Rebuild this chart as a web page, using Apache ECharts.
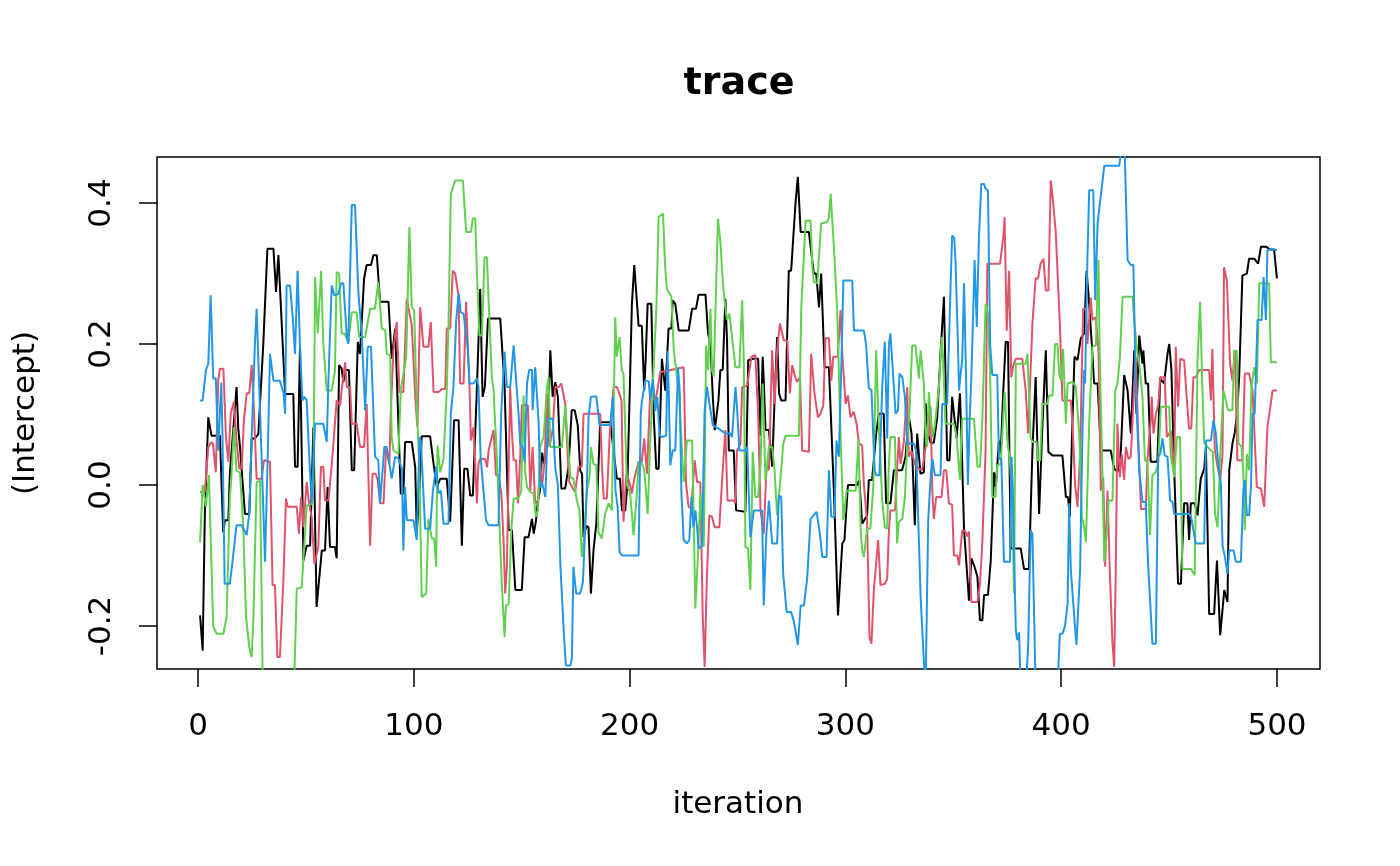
<!DOCTYPE html>
<html>
<head>
<meta charset="utf-8">
<script src="https://cdn.jsdelivr.net/npm/echarts@6/dist/echarts.min.js"></script>
<style>html,body{margin:0;padding:0;background:#fff;}#c{width:1400px;height:866px;}</style>
</head>
<body>
<div id="c"></div>
<script>
const chainColors = ['#000000', '#DF536B', '#61D04F', '#2297E6'];
const xTickValues = [0, 100, 200, 300, 400, 500];
const yTickValues = [-0.2, 0.0, 0.2, 0.4];

const chain1 = [[1,-0.185],[2.2,-0.235],[3.2,-0.043],[4,-0.043],[4.8,0.096],[6.3,0.07],[10.2,0.07],[11.7,-0.067],[12.5,-0.05],[14.1,-0.05],[14.8,0.016],[15.6,0.016],[17.9,0.139],[18.7,0.08],[19.5,0.054],[20.3,0.054],[21.8,-0.041],[23.8,-0.041],[24.9,0.066],[26.4,0.066],[28,0.072],[28.8,0.072],[30.3,0.2],[32.2,0.335],[35,0.335],[36.2,0.274],[37.3,0.326],[38,0.326],[40.4,0.129],[44.2,0.129],[45,0.026],[46.2,0.026],[47.3,0.196],[48.9,-0.107],[50.4,-0.086],[52,-0.086],[53.5,0.082],[55,-0.173],[57.4,-0.093],[58.9,-0.093],[60.1,-0.003],[61.2,-0.088],[63.5,-0.088],[64.3,-0.104],[65.4,0.17],[66.6,0.165],[67.4,0.146],[68.2,0.163],[70,0.163],[71.3,0.021],[72.4,0.021],[74.1,0.203],[75.1,0.186],[77,0.293],[78.2,0.312],[80.2,0.312],[81.3,0.326],[82.9,0.326],[84.4,0.26],[88.3,0.26],[89.8,0.179],[91.4,0.222],[94,-0.012],[95.2,-0.012],[96,0.061],[99.1,0.061],[100.7,0.025],[101.4,-0.067],[102.7,-0.008],[103.7,0.069],[107.6,0.069],[109.2,0.03],[110.7,-0.003],[112.3,0.009],[115.3,0.009],[116.9,-0.052],[118.7,0.092],[120.8,0.092],[122.3,-0.086],[123.4,0.023],[124.9,0.023],[126.2,-0.015],[127.4,-0.015],[129.3,0.139],[130.8,0.278],[131.9,0.125],[133,0.14],[134.4,0.236],[140.1,0.236],[142.1,0.14],[144,-0.064],[145.5,-0.064],[147.1,-0.149],[150.1,-0.149],[151.4,-0.074],[153.2,-0.074],[154.8,-0.048],[155.6,-0.069],[156.6,-0.052],[157.6,-0.022],[158.5,-0.008],[159.5,0.046],[160.5,0.03],[162,0.06],[163.3,0.191],[164.4,0.125],[165.6,0.146],[166.8,0.125],[168.4,-0.005],[170.2,-0.005],[171.8,0.028],[173.2,0.106],[174.6,0.106],[176,0.085],[177.2,0.02],[178,0.016],[178.7,-0.074],[180,-0.058],[181,-0.06],[182.1,-0.154],[183.3,-0.093],[184.6,-0.055],[185.2,-0.055],[186.4,0.089],[191.1,0.089],[194.1,0.009],[195.6,0.009],[196.5,-0.036],[198,-0.036],[199,0.0],[200,0.12],[201.1,0.257],[202.2,0.312],[203.1,0.312],[204.2,0.226],[205.7,0.226],[206.8,0.134],[207.5,0.18],[208.4,0.257],[210.1,0.257],[211.2,0.1],[212.4,0.023],[213.5,0.023],[215,0.179],[216.6,0.134],[218.1,0.222],[219.4,0.222],[220,0.262],[221.2,0.257],[222.8,0.219],[227.4,0.219],[229,0.25],[230.8,0.25],[232,0.27],[235.2,0.27],[236.4,0.215],[237.5,0.2],[238.6,0.125],[239.5,0.078],[240.1,0.078],[241.2,0.12],[242.1,0.163],[243.2,0.163],[244.4,0.264],[245.2,0.205],[246,0.049],[248.3,0.049],[249.4,-0.036],[253.7,-0.038],[255,0.177],[257.1,0.179],[259.6,0.179],[260.7,0.07],[261.7,0.182],[262.2,0.15],[263,0.078],[264.6,0.078],[266.1,0.026],[267.2,0.12],[268.4,0.21],[269.3,0.13],[270.3,0.12],[272.3,0.12],[273.8,0.304],[274.9,0.304],[276.9,0.399],[278,0.437],[279.3,0.359],[283.1,0.359],[285.4,0.3],[286.5,0.3],[287.8,0.252],[288.8,0.3],[290.4,0.167],[292.4,0.167],[294.7,-0.008],[296.6,-0.185],[297.3,-0.185],[298.6,-0.083],[299.6,-0.078],[301.2,0],[305.5,0],[306.5,0.007],[307.8,-0.055],[308.6,-0.055],[310.1,-0.043],[310.9,0.007],[312.4,0.007],[314.3,0.073],[315.5,0.101],[317.8,0.101],[318.9,-0.026],[320.9,-0.026],[322.5,0.021],[326.3,0.021],[327.9,0.04],[329.4,0.098],[330.7,0.073],[332.2,-0.057],[333.3,0.073],[334.8,0.016],[336.4,0.018],[337.2,0.116],[338.3,0.073],[339.5,0.06],[341,0.06],[342.6,0.096],[344.1,0.186],[345.7,0.267],[347.2,0.035],[348.3,0.035],[349.5,0.125],[350.3,0.125],[351.6,0.066],[353.1,0.13],[353.9,0.06],[355,-0.062],[357.3,-0.164],[358.4,-0.104],[359.9,-0.116],[361.2,-0.13],[362.4,-0.192],[363.5,-0.192],[364.3,-0.156],[366.1,-0.156],[367.4,-0.107],[368.9,0.018],[369.7,-0.003],[371.2,0.063],[372,0.044],[373.2,0.134],[374.3,0.203],[375.4,0.203],[376.6,-0.09],[381.3,-0.09],[382.8,-0.119],[385.1,-0.119],[386.7,0.049],[388.2,0.153],[389.8,-0.041],[391.3,0.082],[392.9,0.191],[394.1,0.047],[396,0.042],[400.6,0.042],[402.2,-0.017],[403.2,-0.017],[404,-0.045],[405.3,0.096],[406.2,0.182],[407.6,0.177],[409.1,0.208],[410.7,0.215],[411.8,0.304],[413,0.257],[414.2,0.2],[415.3,0.144],[416.9,0.144],[418.4,0.049],[423,0.049],[424.6,0.023],[426.2,0.019],[427.7,0.049],[429.2,0.156],[430.8,0.134],[432.3,0.073],[433.9,0.191],[434.9,0.101],[436.2,0.212],[437.7,0.172],[438.1,0.191],[439.2,0.144],[440.3,0.144],[441.5,0.033],[444.6,0.033],[445.9,0.151],[447.7,0.144],[449.3,0.186],[450.1,0.2],[451.1,0.163],[452.4,0.021],[454.2,-0.14],[455.5,-0.14],[457,-0.026],[458.5,-0.026],[459.3,-0.078],[460.1,-0.026],[461.9,-0.026],[463.2,-0.043],[464.7,0.009],[466.3,0.023],[467.1,0.054],[468.6,-0.183],[470.9,-0.183],[472.2,-0.107],[473.7,-0.213],[475.6,-0.149],[477.1,-0.166],[477.9,0.021],[479.4,0.059],[480.5,0.075],[481.5,0.1],[482.5,0.153],[484,0.297],[486.1,0.3],[487.1,0.321],[489.5,0.321],[491.3,0.314],[492.6,0.338],[494.9,0.338],[496.9,0.334],[498.7,0.334],[500,0.293]];

const chain2 = [[1,-0.01],[3.2,-0.01],[4.8,0.054],[6.3,0.061],[7,0.058],[8.3,0.018],[9.4,0.148],[10.2,0.165],[11.8,0.165],[13,0.068],[14.1,0.033],[15.2,0.101],[16,0.103],[16.7,0.118],[17.9,0.063],[19.2,0.023],[20.3,0.023],[21.3,0.092],[22.6,0.13],[23.8,0.13],[24.9,0.17],[25.7,0.125],[27.2,0.009],[29.5,0.009],[30.6,0.035],[33.4,0.033],[34.6,-0.142],[35.7,-0.142],[36.8,-0.244],[38,-0.244],[39.6,-0.135],[40.8,-0.019],[41.6,-0.031],[45.8,-0.031],[46.8,-0.069],[47.8,-0.017],[48.9,-0.06],[50.4,0.004],[51.5,-0.026],[52.7,-0.045],[54,-0.112],[54.9,-0.11],[55.8,-0.088],[57,0.026],[58.1,0.026],[58.9,-0.022],[60.5,-0.022],[62,0.028],[62.8,0.028],[64.3,0.12],[65.9,0.113],[66.6,0.134],[68.2,0.174],[69,0.139],[70.5,0.139],[71.3,0.087],[73.6,0.087],[75.1,0.054],[77,0.054],[78.2,0.115],[79.8,-0.086],[80.9,0.016],[82.4,0.016],[83.3,0.007],[84.4,-0.026],[86,-0.026],[87.2,0.052],[88.7,0.03],[89.4,0.106],[90.6,0.191],[92.1,0.231],[93.4,0.132],[95.2,0.132],[96.8,0.264],[97.6,0.264],[99.1,0.226],[100.7,0.125],[101.7,0.082],[103,0.252],[104.5,0.196],[106.8,0.196],[107.9,0.231],[109.2,0.132],[111.5,0.132],[113,0.136],[114.6,0.136],[115.3,0.222],[116.9,0.222],[118.1,0.304],[119.2,0.3],[120.8,0.267],[121.5,0.144],[123.1,0.144],[124.3,0.26],[125.9,0.134],[126.5,0.063],[127.7,0.082],[129.3,-0.026],[130,0.03],[130.8,0.037],[133.1,0.037],[134,0.025],[134.7,0.049],[137,0.078],[138.1,0.014],[139.3,0.014],[140.6,-0.012],[141.6,-0.078],[142.4,-0.154],[143.2,-0.114],[144.7,0.139],[145.5,0.075],[146.3,0.035],[147.4,0.035],[148.3,-0.026],[149.4,0.044],[150.1,0.113],[152.9,0.113],[154,-0.008],[155.1,0.054],[156.3,-0.026],[157.6,-0.022],[158.6,0.035],[159.4,-0.003],[160.7,0.035],[161.7,0.13],[162.8,0.054],[164.4,0.078],[165.6,0.139],[167.2,0.139],[168.4,0.144],[170.2,0.115],[171.2,0.05],[172.1,0.004],[174.8,-0.01],[176.4,0.026],[177.9,0.026],[178.7,0.101],[186.4,0.101],[187.2,0.03],[188,-0.019],[189.5,-0.019],[190.8,0.07],[192.6,0.139],[194.1,0.139],[195.3,0.13],[196.3,0.12],[197.2,-0.052],[198.5,0.016],[200,0.004],[201.1,-0.012],[202.2,0.009],[204.2,0.033],[205.7,0.033],[206.8,0.066],[208.1,0.016],[209.6,0.134],[210.7,0.125],[211.9,0.12],[212.9,0.134],[214.2,0.16],[225.1,0.167],[226.2,0.002],[227.4,-0.031],[228.6,-0.033],[230.2,0.035],[231.3,0.004],[232.8,0.004],[233.9,-0.183],[234.8,-0.258],[235.9,-0.126],[237,-0.043],[238.2,-0.045],[239.5,-0.06],[241.6,-0.06],[242.9,0.007],[244.4,0.078],[245.4,-0.022],[248.3,-0.022],[249,-0.026],[249.8,0.049],[251.4,0.058],[252.2,0.139],[254.5,0.141],[256.5,0.182],[258.3,0.184],[259.6,0.101],[260.7,-0.036],[262.2,-0.069],[263.5,0.028],[264.6,0.021],[266.1,0.191],[267.2,0.115],[268.4,0.191],[269.7,0.229],[271.5,0.205],[273.1,0.205],[274.3,0.13],[275.4,0.17],[276.5,0.156],[277.7,0.146],[279,0.154],[280,0.049],[283.1,0.047],[284.2,0.186],[285.7,0.13],[287.3,0.096],[288.5,0.101],[289.8,0.113],[290.8,0.208],[292.4,0.208],[293.5,0.148],[294.4,0.182],[296.5,0.182],[297.8,0.248],[298.6,0.186],[300.1,0.115],[301.2,0.127],[302.4,0.096],[303.9,0.104],[305.2,0.087],[306.3,0.059],[307.8,0.056],[308.6,0.0],[310.1,-0.052],[311.2,-0.216],[312.1,-0.225],[313.2,-0.15],[315.2,-0.078],[316.3,-0.142],[318.3,-0.14],[319.4,-0.133],[320.2,-0.064],[320.9,-0.036],[323,-0.036],[324.8,0.068],[325.6,0.03],[327.1,0.061],[328.7,0.139],[329.4,0.04],[330.7,0.048],[332.2,0.03],[334.1,0.023],[335.6,0.021],[337.2,0.054],[338.7,0.073],[339.5,0.111],[340.3,-0.008],[341,-0.048],[342.1,-0.017],[344.6,-0.017],[345.7,0.021],[346.8,0.021],[348,-0.026],[349.5,-0.028],[350.3,-0.1],[351.9,-0.1],[352.7,-0.114],[354.2,-0.064],[355.7,-0.066],[356.5,-0.073],[357.3,-0.066],[358.4,-0.166],[361.2,-0.166],[362.4,-0.14],[363.5,-0.081],[364.3,-0.081],[365,0.05],[365.8,0.314],[371.7,0.314],[373.2,0.352],[373.8,0.38],[374.8,0.219],[375.9,0.304],[376.9,0.153],[377.9,0.17],[379,0.179],[382,0.179],[383.6,0.134],[384.7,0.073],[385.5,0.073],[386.7,0.229],[388.2,0.293],[389.3,0.293],[390.5,0.314],[391.8,0.321],[392.9,0.276],[394.1,0.276],[395.2,0.432],[396.3,0.401],[397.5,0.359],[398.3,0.359],[399.4,0.229],[400.6,0.12],[404.5,0.12],[405.3,0.085],[406.5,0.0],[407.6,-0.031],[408.8,0.045],[410.2,0.25],[411.5,0.25],[412.2,0.2],[413.7,0.266],[414.5,0.234],[416,0.238],[417.3,0.193],[418.4,-0.008],[419.5,0.011],[420.4,-0.116],[421.5,-0.008],[422.6,-0.126],[423.8,-0.225],[424.6,-0.258],[425.3,-0.126],[426.1,0.087],[427.2,0.011],[428.1,0.044],[429.2,0.007],[430,0.054],[431.2,0.037],[432.3,0.04],[433.9,0.144],[434.6,0.182],[435.8,0.063],[437,-0.034],[439.2,-0.034],[440,0.035],[441.5,0.09],[442,0.125],[442.8,0.073],[443.9,0.101],[445,0.113],[445.9,0.153],[448,0.153],[449,0.068],[450.8,0.077],[452.4,0.016],[453.1,0.196],[454.2,0.111],[455.2,0.179],[457,0.177],[458.5,0.111],[459.3,0.08],[460.3,0.08],[461.3,0.153],[462.4,0.153],[464,0.163],[468.6,0.163],[469.4,0.12],[470.1,0.193],[471.2,0.05],[472.5,0.026],[473.7,0.007],[474.8,0.044],[475.5,0.309],[476.8,0.29],[478.3,0.172],[479.4,0.148],[480.5,0.191],[481.7,0.035],[484,0.035],[485.1,0.158],[487.1,0.158],[488.7,0.134],[490.7,-0.003],[492.6,-0.005],[494.1,-0.031],[495.6,0.082],[498,0.134],[500,0.134]];

const chain3 = [[1,-0.081],[2.2,0],[3.7,-0.031],[5.1,0.014],[7.1,-0.201],[8.7,-0.211],[11.8,-0.211],[13.3,-0.187],[14.1,-0.185],[14.8,-0.017],[15.6,0.016],[16.7,0.082],[17.9,0.021],[19.5,0.017],[21,-0.06],[22.3,-0.187],[23.8,-0.23],[24.9,-0.244],[25.7,-0.19],[27.2,0.004],[28.8,0.006],[30,-0.27],[31,-0.3],[43.5,-0.3],[44.7,-0.27],[45.8,-0.147],[48.1,-0.145],[49.3,-0.085],[50.4,-0.029],[52.7,-0.027],[53.5,0.0],[54.3,0.295],[55,0.295],[55.5,0.215],[57.1,0.304],[58.1,0.2],[58.9,0.202],[59.7,0.134],[62,0.134],[63.5,0.162],[64.3,0.302],[65.4,0.3],[66.6,0.215],[67.8,0.215],[69.7,0.203],[71.3,0.245],[73.6,0.245],[74.7,0.21],[77.5,0.21],[79.8,0.25],[82,0.25],[83.6,0.288],[84.4,0.288],[85.2,0.222],[86.8,0.22],[87.5,0.186],[89.1,0.184],[89.8,0.068],[90.6,0.049],[92.9,0.044],[94,0.134],[95.2,0.158],[96.5,0.18],[98,0.366],[99.1,0.252],[100.2,0.248],[101.4,0.111],[102.6,0.028],[103.7,-0.159],[105.8,-0.154],[106.8,-0.048],[108.4,-0.076],[109.5,-0.076],[110.4,-0.116],[111,0.056],[112.3,0.018],[113.8,0.037],[115.3,0.134],[116.1,0.224],[117.2,0.413],[118.1,0.415],[119.2,0.432],[122.8,0.432],[124.3,0.359],[126.5,0.359],[127.4,0.378],[128.5,0.378],[129.3,0.3],[130.4,0.212],[131.6,0.212],[132.8,0.323],[133.9,0.323],[135,0.24],[136.2,0.153],[137,0.134],[138.5,0.04],[140.9,-0.145],[142.1,-0.216],[142.7,-0.171],[144,-0.169],[145.2,-0.065],[146.3,-0.019],[148.6,-0.019],[149.8,-0.008],[150.9,0.127],[151.7,0.016],[152.5,-0.003],[154,-0.01],[155.5,-0.012],[156.6,-0.045],[157.6,-0.036],[158.6,0.054],[160.2,0.068],[161.8,0.14],[162.5,0.153],[163.3,0.054],[168.7,0.054],[170.2,0.113],[171,0.115],[172.6,0.011],[174,0.009],[175.6,-0.022],[176.8,-0.036],[177.9,-0.102],[179,-0.074],[180.2,-0.008],[181.5,0.011],[182.1,0.054],[183.3,0.03],[184.6,0.028],[185.6,-0.067],[187.2,-0.076],[188.7,-0.041],[190.3,-0.026],[191.8,-0.036],[193.4,0.238],[194.1,0.182],[195.4,0.21],[196.4,0.163],[197.2,0.158],[198.8,0.002],[200.3,-0.012],[201.9,-0.071],[203.4,-0.012],[204.2,0.033],[205.7,0.031],[206.8,0.022],[208.4,-0.041],[209.6,0.063],[210.8,0.144],[212.4,0.248],[213.5,0.38],[215.5,0.385],[216.5,0.31],[217.3,0.278],[218.1,0.278],[219.4,0.267],[220.5,0.191],[221.2,0.193],[222.8,0.134],[225.1,0.004],[226.6,0.063],[229,0.063],[229.8,-0.055],[230.5,-0.175],[231.3,-0.175],[232,-0.083],[232.8,-0.012],[234.4,-0.088],[235.5,0.198],[236.4,0.163],[237.5,0.25],[238.2,0.163],[239,0.154],[241,0.378],[242.1,0.345],[243.3,0.285],[244.4,0.252],[245.2,0.234],[246.3,0.243],[247.5,0.21],[249.1,0.167],[250.9,0.167],[252.2,0.262],[253,0.17],[253.7,-0.088],[254.9,-0.09],[256,-0.149],[257.1,0.047],[258.3,-0.017],[259.6,-0.017],[260.7,0.028],[261.7,0.144],[263,0.007],[264.6,0.054],[266.1,0.054],[267.2,0.021],[268.4,-0.043],[269.9,0.007],[271.2,0.058],[272.3,0.07],[278.5,0.07],[279.6,0.252],[280.5,0.254],[281.6,0.375],[283.9,0.375],[284.7,0.31],[285.4,0.288],[287,0.286],[287.8,0.287],[288.8,0.371],[291.6,0.373],[292.4,0.38],[293.2,0.413],[294.7,0.338],[296.3,0.243],[297.8,0.068],[299.1,-0.05],[300.6,-0.008],[304.8,-0.008],[306.1,0.065],[307.1,-0.064],[307.8,-0.093],[308.6,-0.102],[310.1,-0.062],[311.6,-0.062],[313,0.0],[314.3,0.191],[315.5,0.087],[316.3,0.085],[317.1,-0.022],[318.3,-0.06],[319.4,-0.062],[320.2,0.03],[320.9,0.068],[323,0.068],[324,-0.083],[324.8,-0.052],[326.4,-0.048],[327.6,-0.017],[328.7,0.059],[329.7,0.101],[331,0.198],[332.5,0.198],[334.1,0.151],[334.9,0.191],[336.4,0.144],[337.2,0.068],[337.9,0.054],[338.7,0.132],[339.9,0.087],[340.6,0.068],[341.5,0.085],[343.4,0.14],[344.6,0.21],[345.2,0.186],[346.4,0.087],[350.3,0.087],[351.5,0.07],[353.1,0.007],[354.2,0.094],[359.6,0.094],[361.2,0.026],[362.4,0.026],[363.5,0.092],[365,0.257],[366.1,0.243],[367.1,0.158],[368.1,-0.017],[369.6,-0.017],[370.4,0.028],[372,0.03],[373.8,0.132],[375.1,0.063],[376.3,0.033],[377.4,-0.03],[378.2,-0.154],[379,0.172],[383.6,0.172],[384.4,0.186],[385.1,0.188],[385.8,0.068],[386.7,0.061],[388.6,0.061],[389.3,0.035],[390.3,0.035],[391.3,0.115],[393.6,0.115],[394.4,0.127],[396,0.127],[397.2,0.2],[398.3,0.2],[399.1,0.158],[400,0.148],[400.9,0.193],[402.2,0.087],[403,0.144],[405.3,0.146],[406.8,0.14],[408.4,0.071],[409.6,-0.045],[410.7,-0.06],[411.5,-0.081],[412.3,-0.081],[413,0.087],[414.5,0.196],[416.1,0.198],[417.3,0.319],[417.9,0.18],[418.9,0.05],[420,-0.109],[420.7,-0.107],[421.5,-0.055],[422,-0.022],[423.8,-0.022],[425.1,0.134],[426.1,0.144],[427.2,0.18],[428.5,0.267],[433.1,0.267],[434,0.229],[435.4,0.186],[436.2,0.172],[437.7,0.125],[438.8,0.035],[440,0.033],[441.2,-0.071],[442.3,0.014],[443.9,0.018],[445,0.033],[446.2,0.111],[450.1,0.111],[450.8,0.04],[451.6,0.028],[452.4,0.011],[453.6,0.068],[455.1,0.068],[456.2,-0.119],[460.1,-0.119],[461.9,-0.128],[463.2,0.176],[464.4,0.26],[465.4,0.143],[466.3,0.059],[469.1,0.05],[470.3,0.047],[471.3,-0.04],[472.5,-0.06],[473.7,0.04],[475.2,0.134],[476.3,0.12],[477.4,0.106],[479.4,0.106],[480.2,0.191],[481.4,0.19],[482.2,0.059],[483.6,0.054],[484.4,0.02],[485.1,-0.064],[486.1,0.044],[487.1,0.021],[488.2,0.139],[489.5,0.167],[490.7,0.144],[491.8,0.286],[496.4,0.286],[497.2,0.174],[500,0.174]];

const chain4 = [[1,0.12],[2.2,0.12],[3.7,0.163],[4.8,0.172],[5.9,0.269],[7.1,0.151],[8.3,0.151],[9.4,0.049],[10.2,0.049],[10.8,0.145],[11.4,0.068],[12.4,-0.14],[14.8,-0.14],[16.1,-0.107],[17,-0.107],[17.9,-0.057],[20.3,-0.057],[22.6,-0.071],[23.8,-0.04],[24.9,0.066],[26.4,0.2],[27.2,0.25],[28,0.25],[29.4,0.05],[31.1,-0.109],[32.4,0.048],[33.4,0.186],[35,0.148],[38,0.148],[39.7,0.13],[40.4,0.101],[41.1,0.283],[42.7,0.283],[43.8,0.243],[45,0.186],[46.2,0.304],[47.3,0.196],[48.4,0.12],[49.3,0.125],[50.4,0.12],[51.5,0.045],[52.7,-0.026],[54.3,0.087],[58.1,0.087],[59.7,0.061],[60.5,0.15],[62,0.283],[63.2,0.269],[65.1,0.271],[66.3,0.286],[67.4,0.286],[69,0.21],[69.7,0.2],[71.3,0.397],[72.8,0.397],[74.4,0.27],[75.9,0.215],[77.5,0.106],[78.7,0.196],[80.2,0.196],[82.1,0.04],[83.6,0.035],[84.4,-0.026],[85.2,-0.026],[86.4,0.054],[87.5,0.054],[89.8,0.009],[91.4,0.04],[92.9,0.038],[94.5,0.023],[95.2,-0.093],[96,-0.003],[96.8,-0.05],[99.9,-0.05],[101.4,-0.078],[102.7,0.068],[103.3,0.063],[105.3,-0.062],[107.6,-0.062],[108.9,-0.008],[110.4,0.026],[111.5,-0.012],[112.6,-0.008],[113.8,-0.055],[116.1,-0.055],[117.2,0.101],[118.4,0.139],[119.7,0.234],[120.8,0.271],[121.8,0.245],[123.1,0.243],[125,0.193],[125.9,0.144],[127.7,0.144],[129.3,0.151],[130,0.14],[131,0.04],[133.5,-0.05],[134.7,-0.057],[139.3,-0.057],[140.5,0.1],[142.1,0.189],[143.2,0.139],[144.7,0.139],[146.3,0.198],[147.1,0.198],[148.6,0.1],[149.4,0.056],[150.4,0.054],[151.4,0.033],[152.5,0.144],[153.5,0.163],[154.8,0.163],[155.1,0.106],[156.3,0.167],[157.9,0.087],[158.6,-0.004],[159.4,0.004],[161,-0.017],[162.2,0.094],[164.4,0.094],[165.6,0.024],[166.8,0],[168,-0.116],[169.5,-0.206],[170.5,-0.256],[172.6,-0.256],[173.3,-0.246],[174,-0.116],[175.3,-0.154],[177.1,-0.154],[178.4,-0.138],[179,-0.136],[180.2,-0.008],[181,0.096],[182.1,0.125],[184.6,0.126],[186.1,0.085],[191.1,0.085],[192.3,0.125],[193.5,-0.008],[194.5,-0.031],[195.4,-0.095],[196.5,-0.1],[204.2,-0.1],[205.2,0.1],[205.7,0.118],[207.3,0.148],[208.9,0.147],[209.6,0.122],[210.8,0.15],[211.9,0.105],[212.9,0.125],[213.9,0.07],[215,0.068],[217,0.07],[217.6,0.19],[218.2,0.13],[218.9,0.028],[220,0.049],[221.2,0.049],[222.5,0.167],[223.3,0.13],[224,-0.008],[225.1,-0.078],[226.6,-0.083],[227.7,-0.078],[228.7,-0.017],[229.6,-0.06],[230.5,-0.036],[231.3,-0.06],[232,-0.09],[233.6,-0.086],[234.8,0.106],[235.9,0.139],[237.5,0.106],[238.6,0.085],[241.3,0.08],[244.4,0.073],[246.8,0.073],[247.5,0.068],[249.1,0.139],[249.9,0.106],[250.9,0.049],[253.7,0.049],[254.5,0.054],[256,-0.074],[257.6,-0.036],[261.4,-0.036],[262.2,-0.171],[263.4,-0.07],[264.6,-0.022],[266.1,-0.083],[268.4,-0.083],[269.2,-0.015],[270.3,-0.017],[271.2,-0.126],[272.8,-0.18],[274.9,-0.18],[276.2,-0.194],[277,-0.194],[278,-0.227],[279.3,-0.171],[280.8,-0.171],[282.3,-0.133],[283.9,-0.048],[286.7,-0.038],[288.2,-0.069],[289.3,-0.102],[291.3,-0.102],[292.4,0.021],[293.5,-0.045],[295,-0.045],[295.9,0.063],[297,0.04],[298.1,0.163],[299.1,0.29],[303.2,0.29],[304,0.219],[308.6,0.219],[309.6,0.2],[310.9,0.137],[312.1,0.135],[313.6,0.02],[314.3,0.014],[315.8,0.014],[317.1,0.14],[318.3,0.203],[319.4,0.066],[320.2,0.2],[320.9,0.215],[322,0.163],[323.3,0.101],[324.4,0.106],[325.1,0.158],[326.4,0.153],[327.6,0.125],[328.7,0.059],[331.8,0.059],[332.8,0.049],[334.9,-0.159],[335.6,-0.159],[336.4,-0.25],[337.2,-0.29],[337.8,-0.29],[338.4,-0.05],[339.5,0.01],[340.3,0.037],[341.5,0.014],[344.1,0.014],[344.9,0.115],[347.2,0.115],[348.8,0.286],[349.5,0.354],[350.5,0.35],[351.1,0.314],[352,0.22],[352.7,0.134],[353.5,0.132],[354.2,0.18],[355,0.286],[355.9,0.16],[356.8,0],[357.7,0.1],[358.4,0.151],[359.3,0.149],[359.9,0.319],[360.9,0.224],[361.9,0.35],[363,0.427],[364.3,0.427],[365,0.42],[366.1,0.418],[367.1,0.2],[368.1,0.156],[370.4,0.156],[371.2,0.037],[372.3,0.037],[373.5,-0.109],[376.3,-0.109],[377,0.04],[377.6,-0.005],[378.2,-0.1],[379,-0.206],[379.7,-0.22],[380.5,-0.209],[381.3,-0.29],[383.6,-0.29],[384.7,-0.23],[385.9,-0.064],[386.7,-0.07],[388.2,-0.29],[398.3,-0.29],[399.4,-0.211],[400.6,-0.211],[401.8,-0.2],[403,-0.168],[403.7,-0.026],[404.5,-0.121],[405.3,-0.121],[406.4,-0.2],[407.1,-0.227],[408,-0.17],[408.8,-0.12],[409.9,0.078],[410.7,0.163],[411.1,0.144],[412.2,0.323],[413,0.418],[414.9,0.418],[415.8,0.262],[416.9,0.371],[417.7,0.371],[420,0.453],[426.9,0.453],[427.7,0.47],[429.5,0.47],[430.8,0.319],[432.3,0.312],[433.5,0.312],[434.6,0.135],[436.2,0.02],[437.7,-0.024],[438.4,-0.022],[439.2,-0.024],[440.3,-0.112],[441.2,-0.114],[442.3,-0.225],[443.9,-0.225],[445,0.04],[445.9,0.044],[447,0.066],[448,0.042],[449.3,0.04],[450.5,-0.022],[451.6,-0.024],[452.4,-0.041],[459.3,-0.041],[460.2,-0.045],[461.3,-0.064],[462.4,-0.083],[466.3,-0.083],[467.1,0.063],[469.4,0.063],[470.6,0.092],[471.7,0.073],[472.8,0.03],[474,0.002],[474.8,-0.086],[475.9,-0.102],[477.1,-0.126],[477.9,-0.093],[479.9,-0.093],[481,-0.109],[483.3,-0.109],[484.4,-0.01],[485.1,0.007],[486.1,-0.043],[487.1,-0.043],[488,0.0],[488.7,0.101],[489.7,0.101],[491,0.234],[492.9,0.234],[493.8,0.295],[494.9,0.234],[495.6,0.333],[498,0.335],[500,0.333]];

const chains = [chain1, chain2, chain3, chain4];

// R-style axis extents: data range padded by 4%
const xMin = -18.96, xMax = 519.96;
const yMin = -0.26099, yMax = 0.46525;

const FONT = 'DejaVu Sans';
const chart = echarts.init(document.getElementById('c'), null, {renderer: 'canvas'});

const option = {
  backgroundColor: '#ffffff',
  animation: false,
  title: {
    text: 'trace',
    left: 734,
    top: 60,
    textAlign: 'center',
    textStyle: {fontFamily: FONT, fontSize: 38, fontWeight: 'bold', color: '#000'}
  },
  grid: [
    {left: 157, right: 80, top: 157, bottom: 197, show: true, borderColor: '#000', borderWidth: 1.5, backgroundColor: 'transparent', containLabel: false},
    {left: 198, right: 123, top: 203, bottom: 240, show: false, containLabel: false}
  ],
  xAxis: [
    {gridIndex: 0, type: 'value', min: xMin, max: xMax, show: false},
    {gridIndex: 1, type: 'value', min: xTickValues[0], max: xTickValues[xTickValues.length - 1], interval: 100,
     position: 'bottom', offset: 43,
     axisLine: {show: false, onZero: false},
     axisTick: {show: true, inside: false, length: 18, lineStyle: {color: '#000', width: 1.5}},
     axisLabel: {show: true, margin: 42, fontFamily: FONT, fontSize: 31, color: '#000'},
     splitLine: {show: false}}
  ],
  yAxis: [
    {gridIndex: 0, type: 'value', min: yMin, max: yMax, show: false},
    {gridIndex: 1, type: 'value', min: yTickValues[0], max: yTickValues[yTickValues.length - 1], interval: 0.2,
     position: 'left', offset: 41,
     axisLine: {show: false, onZero: false},
     axisTick: {show: true, inside: false, length: 18, lineStyle: {color: '#000', width: 1.5}},
     axisLabel: {show: true, rotate: 90, margin: 40, fontFamily: FONT, fontSize: 31, color: '#000',
       formatter: function (v) { return Number(v).toFixed(1); }},
     splitLine: {show: false}}
  ],
  graphic: [
    {type: 'text', x: 738, y: 805, style: {text: 'iteration', font: '31px "DejaVu Sans"', fill: '#000', textAlign: 'center', textVerticalAlign: 'middle', align: 'center', verticalAlign: 'middle'}},
    {type: 'text', x: 26, y: 413, rotation: Math.PI / 2, style: {text: '(Intercept)', font: '31px "DejaVu Sans"', fill: '#000', textAlign: 'center', textVerticalAlign: 'middle', align: 'center', verticalAlign: 'middle'}}
  ],
  series: chains.map(function (d, i) {
    return {
      type: 'line', xAxisIndex: 0, yAxisIndex: 0, data: d,
      showSymbol: false, symbol: 'none', clip: true, silent: true,
      lineStyle: {color: chainColors[i], width: 2},
      itemStyle: {color: chainColors[i]}
    };
  })
};
chart.setOption(option);
</script>
</body>
</html>
